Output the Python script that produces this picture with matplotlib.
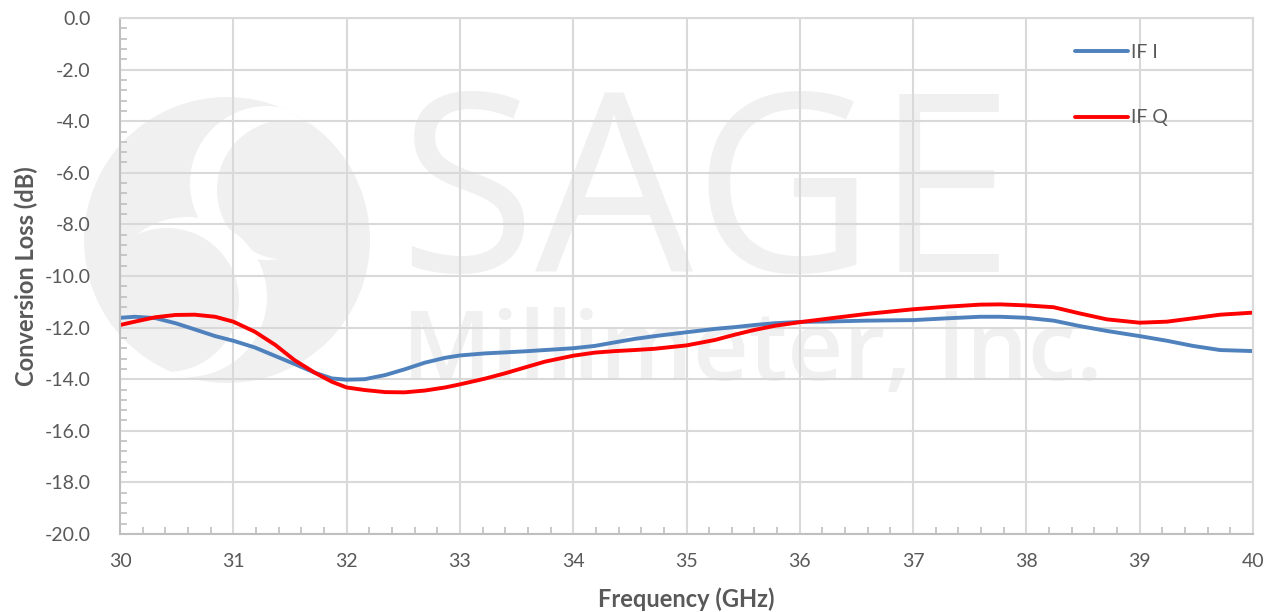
import matplotlib
matplotlib.use("Agg")
import matplotlib.pyplot as plt
from matplotlib.patches import Circle
from matplotlib.ticker import MultipleLocator, FormatStrFormatter

plt.rcParams['font.family'] = ['Lato', 'DejaVu Sans']
plt.rcParams['axes.unicode_minus'] = False

# values
freq = [30.0, 30.13, 30.31, 30.49, 30.66, 30.84, 31.0, 31.19, 31.37, 31.54,
        31.72, 31.87, 32.0, 32.16, 32.34, 32.51, 32.69, 32.87, 33.0, 33.22,
        33.4, 33.57, 33.75, 34.0, 34.19, 34.37, 34.54, 34.72, 35.0, 35.25,
        35.43, 35.6, 35.78, 36.0, 36.29, 36.59, 37.0, 37.3, 37.59, 37.77,
        38.0, 38.24, 38.47, 38.71, 39.0, 39.24, 39.47, 39.71, 40.0]

if_i = [-11.62, -11.58, -11.63, -11.83, -12.07, -12.33, -12.51, -12.77, -13.10, -13.41,
        -13.75, -13.97, -14.02, -14.00, -13.84, -13.62, -13.36, -13.17, -13.08, -13.00,
        -12.96, -12.92, -12.87, -12.80, -12.71, -12.57, -12.44, -12.33, -12.18, -12.05,
        -11.98, -11.90, -11.83, -11.78, -11.76, -11.73, -11.71, -11.64, -11.58, -11.58,
        -11.62, -11.73, -11.94, -12.13, -12.33, -12.51, -12.71, -12.87, -12.91]

if_q = [-11.90, -11.77, -11.60, -11.51, -11.50, -11.58, -11.77, -12.16, -12.67, -13.26,
        -13.75, -14.10, -14.32, -14.42, -14.50, -14.51, -14.44, -14.32, -14.20, -13.98,
        -13.77, -13.55, -13.32, -13.09, -12.97, -12.91, -12.87, -12.82, -12.69, -12.48,
        -12.27, -12.09, -11.93, -11.79, -11.63, -11.47, -11.29, -11.19, -11.11, -11.10,
        -11.14, -11.21, -11.45, -11.68, -11.81, -11.77, -11.64, -11.50, -11.42]

text_col = '#595959'
grid_col = '#d9d9d9'
wm_col = '#f0f0f0'

fig = plt.figure(figsize=(12.75, 6.12), dpi=100)

# background watermark, drawn in pixel coordinates
bg = fig.add_axes([0, 0, 1, 1], zorder=0)
bg.set_xlim(0, 1275)
bg.set_ylim(612, 0)
bg.axis('off')
disc = Circle((227, 240), 143, color=wm_col, lw=0)
bg.add_patch(disc)
for (cx, cy, r, c) in [(267, 183, 77, 'white'), (287, 190, 70, wm_col),
                       (187, 297, 80, 'white'), (167, 300, 72, wm_col)]:
    p = Circle((cx, cy), r, color=c, lw=0)
    bg.add_patch(p)
    p.set_clip_path(disc)
bg.text(398, 272, 'SAGE', fontsize=180, color=wm_col, family='Open Sans',
        ha='left', va='baseline')
bg.text(402, 380, 'Millimeter, Inc.', fontsize=70, color=wm_col, family='Open Sans',
        fontweight='semibold', ha='left', va='baseline')

ax = fig.add_axes([120 / 1275, 1 - 534 / 612, 1133 / 1275, 516 / 612], zorder=1)
ax.set_facecolor('none')

ax.plot(freq, if_i, color='#4f81bd', lw=2.8, label='IF I', solid_capstyle='round')
ax.plot(freq, if_q, color='#ff0000', lw=2.8, label='IF Q', solid_capstyle='round')

ax.set_xlim(30, 40)
ax.set_ylim(-20, 0)
ax.xaxis.set_major_locator(MultipleLocator(1))
ax.xaxis.set_minor_locator(MultipleLocator(0.2))
ax.yaxis.set_major_locator(MultipleLocator(2))
ax.yaxis.set_minor_locator(MultipleLocator(0.4))
ax.yaxis.set_major_formatter(FormatStrFormatter('%.1f'))
ax.grid(True, which='major', color=grid_col, lw=1.5)
ax.tick_params(which='major', length=0, labelsize=14, colors=text_col)
ax.tick_params(axis='y', which='major', pad=21)
ax.tick_params(axis='x', which='major', pad=14)
ax.tick_params(which='minor', direction='in', length=5, width=1.2, color='#bfbfbf')
ax.tick_params(axis='x', which='minor', top=False)
ax.tick_params(axis='y', which='minor', right=False)
for s in ax.spines.values():
    s.set_color(grid_col)
    s.set_linewidth(1.5)
ax.spines['left'].set_color('#bfbfbf')
ax.spines['bottom'].set_color('#bfbfbf')

ax.set_xlabel('Frequency (GHz)', fontsize=17, fontweight='bold', color=text_col, labelpad=12)
ax.set_ylabel('Conversion Loss (dB)', fontsize=17, fontweight='bold', color=text_col, labelpad=5)

leg = ax.legend(loc='upper left', bbox_to_anchor=(0.843, 0.950), frameon=False,
                fontsize=14, handlelength=2.7, handletextpad=0.15, labelspacing=2.5,
                borderpad=0, borderaxespad=0)
for t in leg.get_texts():
    t.set_color(text_col)

fig.savefig('out.png', dpi=100)
